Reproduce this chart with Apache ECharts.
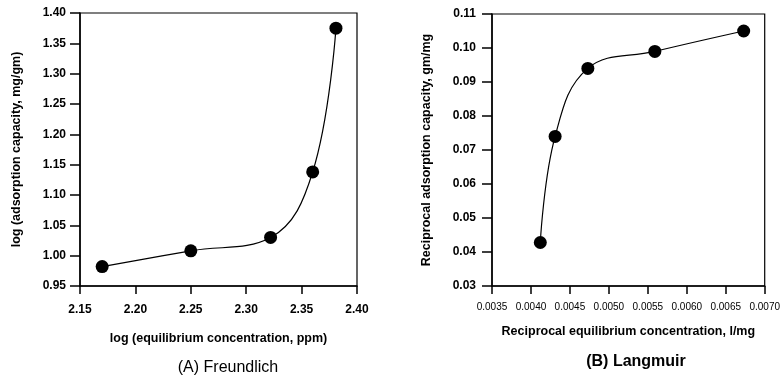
<!DOCTYPE html>
<html><head><meta charset="utf-8">
<script src="https://cdn.jsdelivr.net/npm/echarts@6/dist/echarts.min.js"></script>
<style>html,body{margin:0;padding:0;background:#fff}#c{width:783px;height:378px}</style>
</head><body><div id="c"></div>
<script>
// Freundlich (A)
const freundlichX = [2.17, 2.25, 2.322, 2.36, 2.381];
const freundlichY = [0.982, 1.008, 1.030, 1.138, 1.375];
// Langmuir (B)
const langmuirX = [0.00412, 0.00431, 0.00473, 0.00559, 0.00673];
const langmuirY = [0.0428, 0.074, 0.094, 0.099, 0.105];

const axisTitleA_x = 'log (equilibrium concentration, ppm)';
const axisTitleA_y = 'log (adsorption capacity, mg/gm)';
const axisTitleB_x = 'Reciprocal equilibrium concentration, l/mg';
const axisTitleB_y = 'Reciprocal adsorption capacity, gm/mg';
const panelTitles = ['(A) Freundlich', '(B) Langmuir'];

const FONT = 'Liberation Sans, Arial, sans-serif';
const chart = echarts.init(document.getElementById('c'));

function xAxis(idx, min, max, interval, dec, name, fs, fw, margin, gap) {
  return {
    type: 'value', gridIndex: idx, min: min, max: max, interval: interval,
    name: name, nameLocation: 'middle', nameGap: gap,
    nameTextStyle: {color: '#000', fontFamily: FONT, fontWeight: 'bold', fontSize: 12.5},
    axisLine: {show: true, onZero: false, lineStyle: {color: '#000', width: 1.5}},
    axisTick: {show: true, inside: false, length: 8, lineStyle: {color: '#000', width: 1.5}},
    axisLabel: {color: '#000', fontFamily: FONT, fontWeight: fw, fontSize: fs, margin: margin,
      formatter: v => v.toFixed(dec)},
    splitLine: {show: false}
  };
}
function yAxis(idx, min, max, interval, dec, name, gap, margin) {
  return {
    type: 'value', gridIndex: idx, min: min, max: max, interval: interval,
    name: name, nameLocation: 'middle', nameGap: gap, nameRotate: 90,
    nameTextStyle: {color: '#000', fontFamily: FONT, fontWeight: 'bold', fontSize: 12.5},
    axisLine: {show: true, onZero: false, lineStyle: {color: '#000', width: 1.5}},
    axisTick: {show: true, inside: false, length: 10, lineStyle: {color: '#000', width: 1.5}},
    axisLabel: {color: '#000', fontFamily: FONT, fontWeight: 'bold', fontSize: 12, margin: margin,
      formatter: v => v.toFixed(dec)},
    splitLine: {show: false}
  };
}

chart.setOption({
  animation: false,
  backgroundColor: '#fff',
  grid: [
    {left: 80, right: 426, top: 13, bottom: 92, show: true, borderColor: '#000', borderWidth: 1.2},
    {left: 492, right: 16, top: 14, bottom: 92, show: true, borderColor: '#000', borderWidth: 1.2}
  ],
  xAxis: [
    xAxis(0, 2.15, 2.40, 0.05, 2, axisTitleA_x, 12, 'bold', 18, 46),
    xAxis(1, 0.0035, 0.0070, 0.0005, 4, axisTitleB_x, 10, 'normal', 16, 39)
  ],
  yAxis: [
    yAxis(0, 0.95, 1.40, 0.05, 2, axisTitleA_y, 57, 14),
    yAxis(1, 0.03, 0.11, 0.01, 2, axisTitleB_y, 59, 16)
  ],
  title: [
    {text: panelTitles[0], left: 228, top: 360, textAlign: 'center', padding: 0,
     textStyle: {color: '#000', fontFamily: FONT, fontWeight: 'normal', fontSize: 16}},
    {text: panelTitles[1], left: 636, top: 354, textAlign: 'center', padding: 0,
     textStyle: {color: '#000', fontFamily: FONT, fontWeight: 'bold', fontSize: 16}}
  ],
  series: [
    {type: 'line', xAxisIndex: 0, yAxisIndex: 0, smooth: 0.4,
     data: freundlichX.map((x, i) => [x, freundlichY[i]]),
     symbol: 'circle', symbolSize: 13,
     itemStyle: {color: '#000'}, lineStyle: {color: '#000', width: 1.2}},
    {type: 'line', xAxisIndex: 1, yAxisIndex: 1, smooth: 0.4,
     data: langmuirX.map((x, i) => [x, langmuirY[i]]),
     symbol: 'circle', symbolSize: 13,
     itemStyle: {color: '#000'}, lineStyle: {color: '#000', width: 1.2}}
  ]
});
</script></body></html>
